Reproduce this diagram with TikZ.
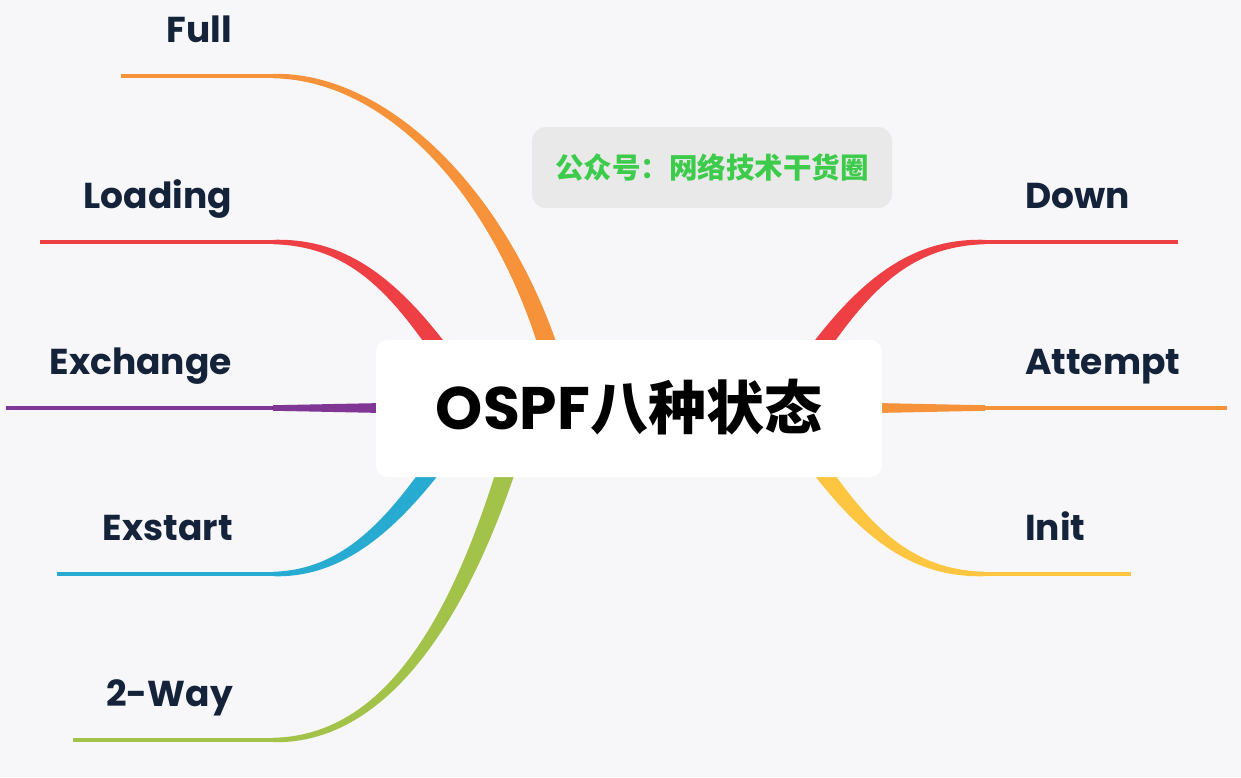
\documentclass[tikz,border=0pt]{standalone}
\usepackage{fontspec}
\setmainfont{Poppins}
\newfontfamily\cjk{Noto Sans CJK SC}
\usetikzlibrary{calc}
\definecolor{bg}{HTML}{F7F7F9}
\definecolor{cOrange}{HTML}{F5923A}
\definecolor{cRed}{HTML}{EE3F45}
\definecolor{cPurple}{HTML}{7F3694}
\definecolor{cBlue}{HTML}{27ABD1}
\definecolor{cGreen}{HTML}{A3C24A}
\definecolor{cYellow}{HTML}{FDC540}
\definecolor{labelc}{HTML}{14233A}
\definecolor{wmfill}{HTML}{E9E9E9}
\definecolor{wmtext}{HTML}{3DCB4B}
% #1 colour, #2 junction, #3 ctrl1, #4 ctrl2, #5 root end, #6..#9 half widths
\newcommand\taperbranch[9]{%
  \fill[#1] ($(#2)!#6!90:(#3)$) .. controls ($(#3)!#7!-90:(#2)$) and ($(#4)!#8!90:(#5)$) .. ($(#5)!#9!-90:(#4)$)
   -- ($(#5)!#9!90:(#4)$) .. controls ($(#4)!#8!-90:(#5)$) and ($(#3)!#7!90:(#2)$) .. ($(#2)!#6!-90:(#3)$) -- cycle;}
\newcommand\curvedbranch[5]{\taperbranch{#1}{#2}{#3}{#4}{#5}{2.2pt}{4.6pt}{8.5pt}{10pt}}
\newcommand\straightbranch[5]{\taperbranch{#1}{#2}{#3}{#4}{#5}{2.8pt}{3.6pt}{5.6pt}{6.5pt}}
\tikzset{
  leafline/.style={line width=3.6pt},
  lbl/.style={text=labelc, font=\bfseries\fontsize{36}{38}\selectfont, inner sep=0pt},
  rootbox/.style={fill=white, rounded corners=12pt, minimum width=506pt, minimum height=137pt, inner sep=0pt},
  wmbox/.style={fill=wmfill, rounded corners=14pt, minimum width=360pt, minimum height=81pt, inner sep=0pt}
}
\begin{document}
\begin{tikzpicture}[x=1pt,y=-1pt]
\useasboundingbox (0,0) rectangle (1241,777);
\fill[bg] (0,0) rectangle (1241,777);

% Full
\coordinate (jFull) at (273,76); \coordinate (aFull) at (400,76); \coordinate (bFull) at (525,220); \coordinate (rFull) at (565,410); \coordinate (eFull) at (121,76);
% Loading
\coordinate (jLoad) at (273,242); \coordinate (aLoad) at (360,242); \coordinate (bLoad) at (410,300); \coordinate (rLoad) at (480,410); \coordinate (eLoad) at (40,242);
% Exchange
\coordinate (jExch) at (273,408); \coordinate (aExch) at (320,408); \coordinate (bExch) at (400,408); \coordinate (rExch) at (480,408); \coordinate (eExch) at (6,408);
% Exstart
\coordinate (jExst) at (273,574); \coordinate (aExst) at (350,574); \coordinate (bExst) at (405,516); \coordinate (rExst) at (475,406); \coordinate (eExst) at (57,574);
% 2-Way
\coordinate (jTwo) at (273,740); \coordinate (aTwo) at (390,740); \coordinate (bTwo) at (470,610); \coordinate (rTwo) at (525,406); \coordinate (eTwo) at (73,740);
% Down
\coordinate (jDown) at (985,242); \coordinate (aDown) at (898,242); \coordinate (bDown) at (848,300); \coordinate (rDown) at (778,410); \coordinate (eDown) at (1178,242);
% Attempt
\coordinate (jAtt) at (985,408); \coordinate (aAtt) at (938,408); \coordinate (bAtt) at (860,408); \coordinate (rAtt) at (780,408); \coordinate (eAtt) at (1227,408);
% Init
\coordinate (jInit) at (985,574); \coordinate (aInit) at (898,574); \coordinate (bInit) at (848,516); \coordinate (rInit) at (778,406); \coordinate (eInit) at (1131,574);

\curvedbranch{cOrange}{jFull}{aFull}{bFull}{rFull}
\curvedbranch{cRed}{jLoad}{aLoad}{bLoad}{rLoad}
\straightbranch{cPurple}{jExch}{aExch}{bExch}{rExch}
\curvedbranch{cBlue}{jExst}{aExst}{bExst}{rExst}
\curvedbranch{cGreen}{jTwo}{aTwo}{bTwo}{rTwo}
\curvedbranch{cRed}{jDown}{aDown}{bDown}{rDown}
\straightbranch{cOrange}{jAtt}{aAtt}{bAtt}{rAtt}
\curvedbranch{cYellow}{jInit}{aInit}{bInit}{rInit}

\draw[leafline, cOrange] (jFull) -- (eFull);
\draw[leafline, cRed] (jLoad) -- (eLoad);
\draw[leafline, cPurple] (jExch) -- (eExch);
\draw[leafline, cBlue] (jExst) -- (eExst);
\draw[leafline, cGreen] (jTwo) -- (eTwo);
\draw[leafline, cRed] (jDown) -- (eDown);
\draw[leafline, cOrange] (jAtt) -- (eAtt);
\draw[leafline, cYellow] (jInit) -- (eInit);

\node[rootbox] (root) at (629,408.5) {};
\node[inner sep=0pt, anchor=base] (roottext) at (629,429) {\bfseries\fontsize{60}{62}\selectfont OSPF\cjk\fontsize{58}{60}\selectfont 八种状态};

\node[wmbox] (wm) at (712,167.5) {};
\node[inner sep=0pt, text=wmtext] (wmtext) at (712,168) {\cjk\bfseries\fontsize{28.5}{30}\selectfont 公众号：网络技术干货圈};

\node[lbl, anchor=base east] (lFull) at (232,42) {Full};
\node[lbl, anchor=base east] (lLoad) at (232,208) {Loading};
\node[lbl, anchor=base east] (lExch) at (232,374) {Exchange};
\node[lbl, anchor=base east] (lExst) at (233,540) {Exstart};
\node[lbl, anchor=base east] (lTwo) at (233,706) {2-Way};
\node[lbl, anchor=base west] (lDown) at (1025,208) {Down};
\node[lbl, anchor=base west] (lAtt) at (1025,374) {Attempt};
\node[lbl, anchor=base west] (lInit) at (1025,540) {Init};
\end{tikzpicture}
\end{document}
